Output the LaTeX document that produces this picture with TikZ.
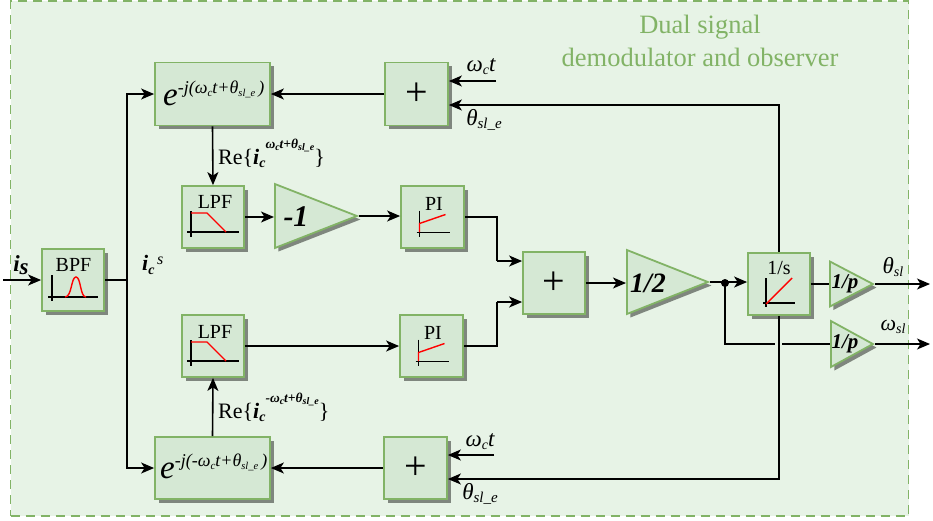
\documentclass[tikz,border=0pt]{standalone}
\usepackage{fontspec}
\setmainfont{Liberation Serif}
\usetikzlibrary{shapes.geometric,shadows,arrows.meta}
\definecolor{bgg}{HTML}{E7F3E6}
\definecolor{boxg}{HTML}{D5E8D4}
\definecolor{lineg}{HTML}{82B366}
\definecolor{shad}{HTML}{7F867E}
\newcommand{\fs}[1]{\fontsize{#1}{#1}\selectfont}
\newcommand{\low}[2]{\raisebox{-#1pt}{#2}}
\newcommand{\high}[2]{\raisebox{#1pt}{#2}}
\newcommand{\bigplus}{\raisebox{-4pt}{+}}
\tikzset{
  x=1pt,y=-1pt,
  sh/.style={drop shadow={shadow xshift=3.5pt,shadow yshift=-3.5pt,fill=shad,opacity=1}},
  blockbox/.style={rectangle,draw=lineg,line width=1.8pt,fill=boxg,sh,inner sep=0pt,
     minimum width=#1,font=\fs{20}},
  blockbox/.default=62pt,
  gain/.style n args={2}{isosceles triangle,isosceles triangle stretches,shape border rotate=0,anchor=lower side,
     draw=lineg,line width=1.8pt,fill=boxg,sh,inner sep=0pt,minimum width=#1,minimum height=#2},
  wire/.style={line width=1.6pt,black},
  arr/.style={wire,-{Stealth[length=13pt,width=11pt,inset=3.5pt]}},
  axis/.style={line width=1.1pt,black},
  resp/.style={line width=1.4pt,red},
  lab/.style={inner sep=0pt,text=black},
  lpficon/.pic={
    \draw[axis] (-26,15)--(26,15);
    \draw[axis] (-22,-6)--(-22,20);
    \draw[resp] (-22,-4)--(-6,-4)--(13,15);},
  bpficon/.pic={
    \draw[axis] (-25,17)--(25,17);
    \draw[axis] (-21,-5)--(-21,21);
    \draw[resp] (-8,17) .. controls (-1,17) and (-2,-3) .. (3,-3) .. controls (8,-3) and (7,17) .. (13,17);},
  piicon/.pic={
    \draw[axis] (-16,15.5)--(17,15.5);
    \draw[axis] (-13,-6.5)--(-13,19.5);
    \draw[resp] (-13,15)--(-13,6.5)--(13,-2.5);},
  inticon/.pic={
    \draw[axis] (-16,19)--(16,19);
    \draw[axis] (-13,-6)--(-13,23);
    \draw[resp] (-13,20)--(13,-6);},
}
\begin{document}
\begin{tikzpicture}
\useasboundingbox (0,0) rectangle (933,520);
\node[rectangle,draw=lineg,dashed,dash pattern=on 9pt off 6pt,line width=1.1pt,fill=bgg,minimum width=898pt,minimum height=515pt,inner sep=0pt] (frame) at (459.5,258.5) {};
\node[inner sep=0pt,text=lineg,font=\fs{26.5},align=center] (title) at (700,41) {Dual signal\\[6pt]demodulator and observer};

% blocks
\node[blockbox,minimum height=62pt] (bpf) at (73,280) {};
\node[blockbox,minimum height=62pt] (lpfa) at (213,217) {};
\node[blockbox,minimum height=62pt] (lpfb) at (213,346) {};
\node[blockbox=63pt,minimum height=62pt] (pia) at (432.5,217) {};
\node[blockbox=63pt,minimum height=62pt] (pib) at (431.5,346) {};
\node[blockbox=62pt,minimum height=62pt,font=\fs{40}] (sum) at (554,283) {\bigplus};
\node[blockbox=62pt,minimum height=62pt] (int) at (779,284) {};
\node[blockbox=115pt,minimum height=63pt] (expa) at (212.5,94) {};
\node[blockbox=63pt,minimum height=63pt,font=\fs{40}] (plusa) at (416.5,94) {\bigplus};
\node[blockbox=115pt,minimum height=62pt] (expb) at (212.5,468) {};
\node[blockbox=63pt,minimum height=62pt,font=\fs{40}] (plusb) at (415.5,468) {\bigplus};
\node[gain={64pt}{82pt}] (neg) at (274,216) {};
\node[gain={64pt}{81pt}] (half) at (626,282) {};
\node[gain={45pt}{43pt}] (pa) at (829,284) {};
\node[gain={46pt}{42pt}] (pb) at (830,344) {};

% texts in blocks
\node[lab] (tbpf) at (73.5,265) {\fs{20}BPF};
\node[lab] (tlpfa) at (215,202) {\fs{20}LPF};
\node[lab] (tlpfb) at (215,332) {\fs{20}LPF};
\node[lab] (tpia) at (434,204) {\fs{20}PI};
\node[lab] (tpib) at (433,333) {\fs{20}PI};
\node[lab] (tint) at (779,268) {\fs{20}1/s};
\node[lab] (tneg) at (296,217) {\fs{30}\bfseries\itshape -1};
\node[lab] (thalf) at (648,283) {\fs{28}\bfseries\itshape 1/2};
\node[lab] (tpa) at (845,284) {\fs{21}\bfseries\itshape 1/p};
\node[lab] (tpb) at (845,344) {\fs{21}\bfseries\itshape 1/p};

\pic at (73,280) {bpficon};
\pic at (213,217) {lpficon};
\pic at (213,346) {lpficon};
\pic at (432.5,217) {piicon};
\pic at (431.5,346) {piicon};
\pic at (779,284) {inticon};

% exp labels
\node[lab,anchor=base west] (ea) at (163,105) {\itshape\fs{33}e\fs{18}\high{12}{-j(ω\low{3}{\fs{11}c}t+θ\low{3}{\fs{10.5}sl\_e}\,)}};
\node[lab,anchor=base west] (eb) at (160,478) {\itshape\fs{33}e\fs{18}\high{12}{-j(-ω\low{3}{\fs{11}c}t+θ\low{3}{\fs{10.5}sl\_e}\,)}};

% coordinates
\coordinate (split) at (127,280);
\coordinate (fb) at (779,105);
\coordinate (fc) at (779,479);
\coordinate (wa) at (496,81);
\coordinate (wb) at (494,455);
\coordinate (isin) at (3,280);
\coordinate (dot) at (725,283);
\coordinate (oa) at (930,284);
\coordinate (ob) at (930,344);
\coordinate (g1) at (775,344);
\coordinate (g2) at (782,344);
\coordinate (ja) at (497,261);
\coordinate (jb) at (497,302);

% connectors
\draw[arr] (isin) -- (bpf.west);
\draw[wire] (bpf.east) -- (split);
\draw[arr] (split) |- (expa.west);
\draw[arr] (split) |- (expb.west);
\draw[arr] (plusa.west) -- (expa.east);
\draw[arr] (plusb.west) -- (expb.east);
\draw[arr] (wa) -- (plusa.east |- wa);
\draw[arr] (wb) -- (plusb.east |- wb);
\draw[arr] (int.north) -- (fb) -- (plusa.east |- fb);
\draw[arr] (int.south) -- (fc) -- (plusb.east |- fc);
\draw[arr] (expa.south) -- (lpfa.north);
\draw[arr] (expb.north) -- (lpfb.south);
\draw[arr] (lpfa.east) -- (neg.lower side |- lpfa.east);
\draw[arr] (neg.apex) -- (pia.west |- neg.apex);
\draw[arr] (lpfb.east) -- (pib.west);
\draw[wire] (pia.east) -| (ja);
\draw[arr] (ja) -- (sum.west |- ja);
\draw[wire] (pib.east) -| (jb);
\draw[arr] (jb) -- (sum.west |- jb);
\draw[arr] (sum.east) -- (half.lower side |- sum.east);
\draw[arr] (half.apex) -- (int.west |- half.apex);
\fill (dot) circle (4pt);
\draw[wire] (int.east) -- (pa.lower side);
\draw[arr] (pa.apex) -- (oa);
\draw[wire] (dot) |- (g1);
\draw[wire] (g2) -- (pb.lower side);
\draw[arr] (pb.apex) -- (ob);

% outer labels
\node[lab] (lis) at (21,265) {\itshape\bfseries\fs{23}i\low{3}{\fs{23}s}};
\node[lab,anchor=west] (lic) at (142,265) {\itshape\bfseries\fs{22}i\low{4}{\fs{14}c}\high{6}{\mdseries\fs{16}\,s}};
\node[lab] (lwa) at (481,67) {\itshape\fs{23}ω\low{3}{\fs{14}c}t};
\node[lab] (lta) at (484,120) {\itshape\fs{23}θ\low{3}{\fs{15}sl\_e}};
\node[lab] (lwb) at (480,442) {\itshape\fs{23}ω\low{3}{\fs{14}c}t};
\node[lab] (ltb) at (480,494) {\itshape\fs{23}θ\low{3}{\fs{15}sl\_e}};
\node[lab] (lsa) at (893,267) {\itshape\fs{23}θ\low{3}{\fs{14}sl}};
\node[lab] (lsb) at (893,327) {\itshape\fs{22}ω\low{3}{\fs{14}sl}};
\node[lab,anchor=base west] (rea) at (218,164) {\fs{22}Re\{\itshape\bfseries i\low{3}{\fs{14}c}\high{16}{\fs{13.5}ω\low{2}{\fs{10}c}t+θ\low{2}{\fs{10}sl\_e}}\upshape\mdseries\}};
\node[lab,anchor=base west] (reb) at (218,418) {\fs{22}Re\{\itshape\bfseries i\low{3}{\fs{14}c}\high{16}{\fs{13.5}-ω\low{2}{\fs{10}c}t+θ\low{2}{\fs{10}sl\_e}}\upshape\mdseries\}};
\end{tikzpicture}
\end{document}
